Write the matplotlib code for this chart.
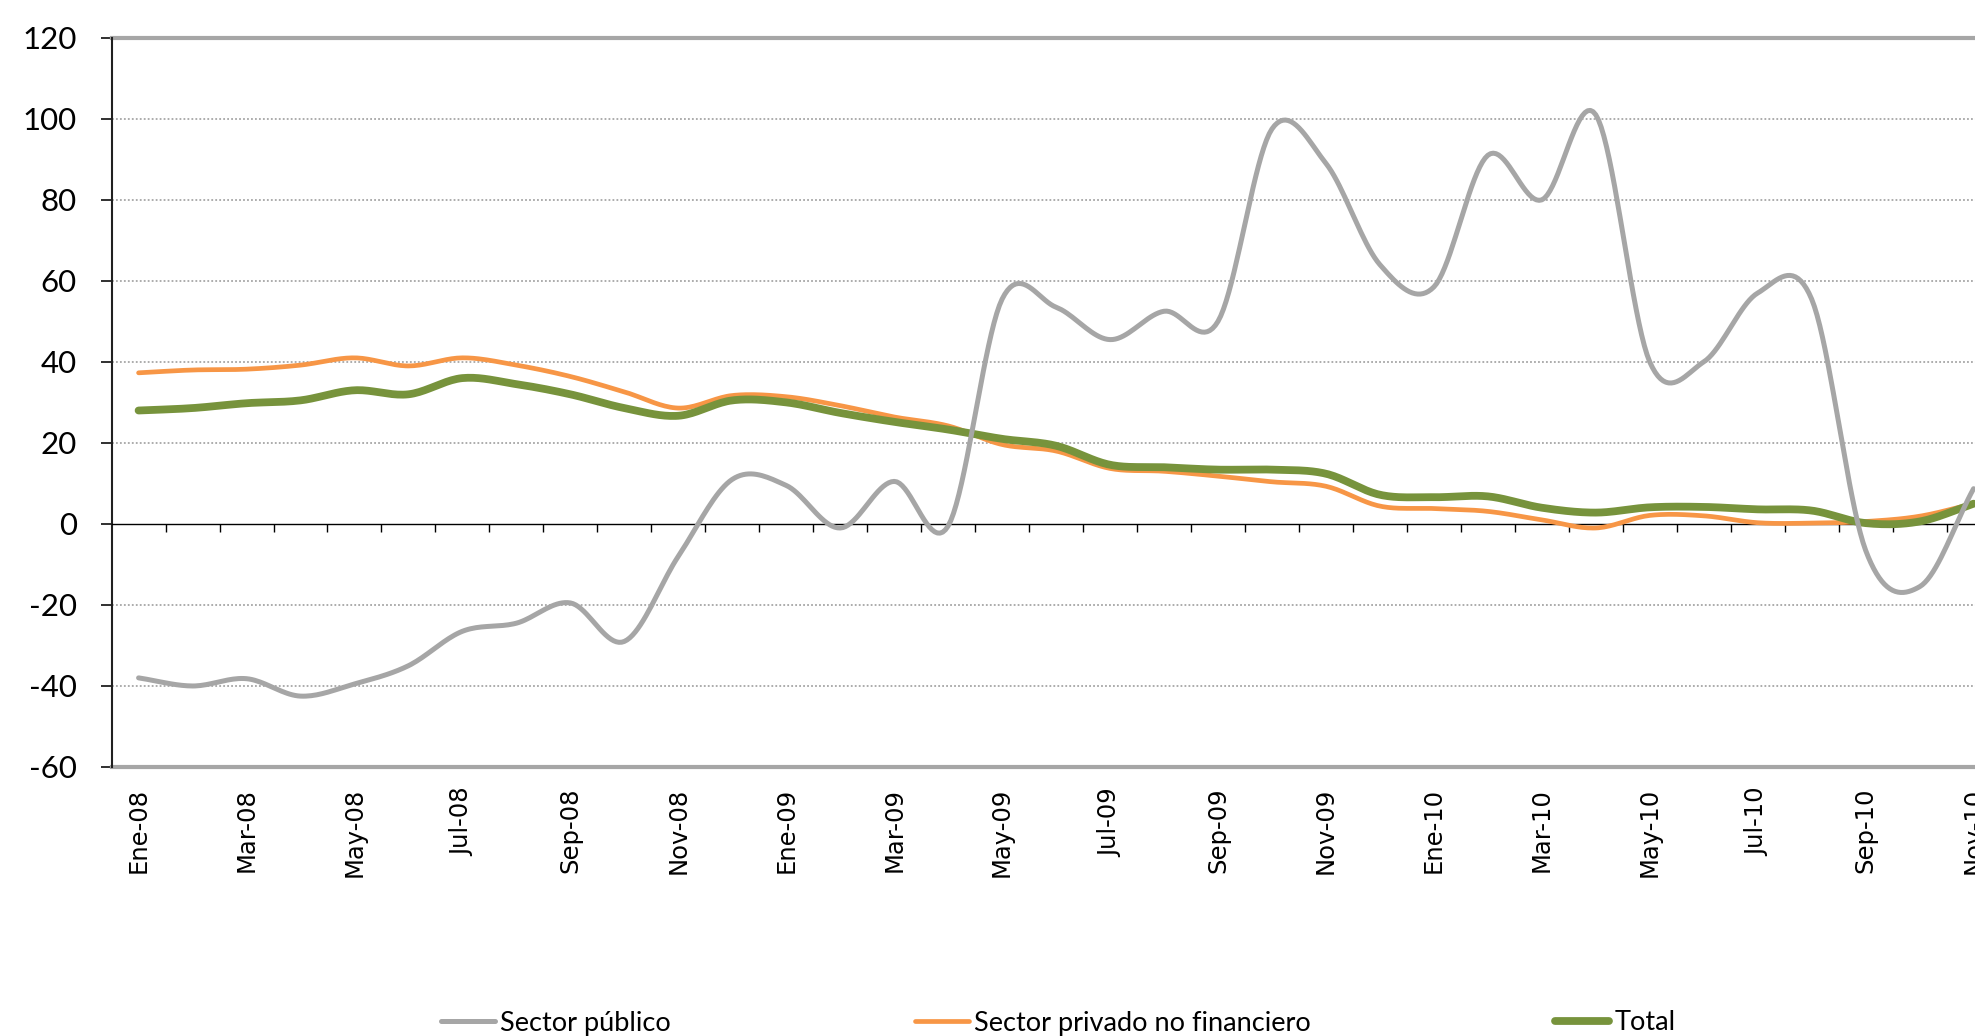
import numpy as np
import matplotlib
matplotlib.use("Agg")
import matplotlib.pyplot as plt
from matplotlib.lines import Line2D

months = ["Ene-08","Feb-08","Mar-08","Abr-08","May-08","Jun-08","Jul-08","Ago-08","Sep-08","Oct-08","Nov-08","Dic-08",
          "Ene-09","Feb-09","Mar-09","Abr-09","May-09","Jun-09","Jul-09","Ago-09","Sep-09","Oct-09","Nov-09","Dic-09",
          "Ene-10","Feb-10","Mar-10","Abr-10","May-10","Jun-10","Jul-10","Ago-10","Sep-10","Oct-10","Nov-10"]

sector_publico = [-38, -40, -38.2, -42.5, -39.5, -35, -26.5, -24.5, -19.5, -29, -8, 11,
                  9.5, -1, 10.5, -0.5, 55.5, 53.5, 45.5, 52.5, 50, 97.5, 89, 64,
                  58.5, 91, 80, 101, 40, 40, 57, 55.5, -6.5, -15.5, 8.7]
sector_privado = [37.3, 38, 38.2, 39.2, 41, 39, 41, 39.2, 36.4, 32.6, 28.6, 31.7,
                  31.4, 29.2, 26.4, 24.2, 19.6, 18, 13.7, 13, 11.8, 10.4, 9.3, 4.4,
                  3.8, 3.1, 1, -1, 2.1, 2, 0.3, 0.2, 0.6, 1.9, 5]
total = [28, 28.6, 29.8, 30.5, 33, 32, 36, 34.5, 32, 28.6, 26.7, 30.5,
         30, 27.4, 25.2, 23.3, 21, 19.3, 14.6, 14, 13.4, 13.4, 12.4, 7.2,
         6.6, 6.8, 4, 2.8, 4.1, 4.2, 3.6, 3.3, 0.2, 0.6, 5]

series_names = ["Sector público", "Sector privado no financiero", "Total"]
series_colors = ["#A6A6A6", "#F79646", "#77933C"]
yticks = [-60, -40, -20, 0, 20, 40, 60, 80, 100, 120]


def smooth(xv, yv, n=20):
    """Catmull-Rom smoothing (like Excel's smoothed line) for drawing."""
    xv = np.asarray(xv, float); yv = np.asarray(yv, float)
    px = np.concatenate([[2*xv[0]-xv[1]], xv, [2*xv[-1]-xv[-2]]])
    py = np.concatenate([[2*yv[0]-yv[1]], yv, [2*yv[-1]-yv[-2]]])
    xs, ys = [], []
    t = np.linspace(0, 1, n, endpoint=False)
    for i in range(1, len(px)-2):
        for P, out in ((px, xs), (py, ys)):
            p0, p1, p2, p3 = P[i-1], P[i], P[i+1], P[i+2]
            out.extend(0.5*((2*p1) + (-p0+p2)*t + (2*p0-5*p1+4*p2-p3)*t**2 + (-p0+3*p1-3*p2+p3)*t**3))
    xs.append(xv[-1]); ys.append(yv[-1])
    return np.array(xs), np.array(ys)


fig = plt.figure(figsize=(19.75, 10.36), dpi=100)
ax = fig.add_axes([111.6/1975, 269/1036, 35*53.97/1975, (767-37.8)/1036])

x = np.arange(len(months))
lws = [3.6, 3.4, 5.6]
zs = [5, 3, 4]
for vals, name, col, lw, z in zip([sector_publico, sector_privado, total], series_names, series_colors, lws, zs):
    sx, sy = smooth(x, vals)
    ax.plot(sx, sy, color=col, lw=lw, solid_capstyle="round", zorder=z, label=name)

ax.set_xlim(-0.5, len(months) - 0.5)
ax.set_ylim(-60, 120)

# gridlines
for v in yticks:
    if v in (-60, 0, 120):
        continue
    ax.axhline(v, color="#A6A6A6", lw=1.3, ls=(0, (1, 1.2)), zorder=1)
ax.axhline(120, color="#A6A6A6", lw=3.0, zorder=2, clip_on=False)
ax.axhline(-60, color="#A6A6A6", lw=3.0, zorder=2, clip_on=False)

for s in ["top", "right"]:
    ax.spines[s].set_visible(False)
ax.spines["left"].set_color("#202020")
ax.spines["left"].set_linewidth(1.5)
ax.spines["bottom"].set_position(("data", 0))
ax.spines["bottom"].set_color("black")
ax.spines["bottom"].set_linewidth(1.0)

ax.set_yticks(yticks)
ax.set_yticklabels([str(v) for v in yticks], fontfamily="Lato", fontsize=22.5)
ax.tick_params(axis="y", length=8, width=1.3, pad=17, color="#202020")

ax.set_xticks(x[::2])
ax.set_xticklabels(months[::2], rotation=90, fontfamily="DejaVu Sans", fontsize=17.5, va="top", ha="center")
ax.set_xticks(np.arange(0.5, len(months) - 0.5, 1), minor=True)
ax.tick_params(axis="x", which="major", length=0, pad=190)
ax.tick_params(axis="x", which="minor", length=6, width=1.0, direction="out", color="black")

handles = [Line2D([], [], color=c, lw=w, solid_capstyle="round") for c, w in zip(series_colors, [3.6, 3.4, 5.6])]
fig.legend(handles, series_names, loc="center", bbox_to_anchor=(0.5357, 1 - 1023/1036), ncol=3,
           frameon=False, prop={"family": "Lato", "size": 19.5}, handlelength=2.0, handletextpad=0.2,
           columnspacing=9.0)

fig.savefig("out.png", dpi=100)
